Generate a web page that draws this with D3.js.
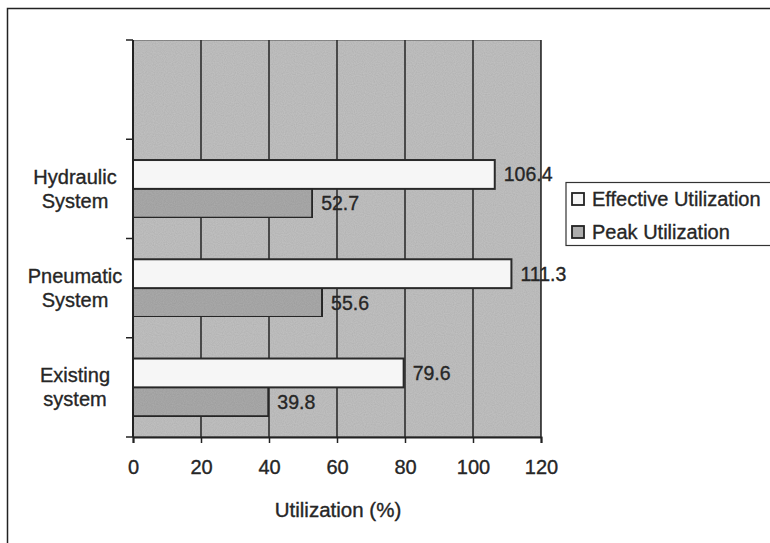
<!DOCTYPE html>
<html>
<head>
<meta charset="utf-8">
<script src="https://cdn.jsdelivr.net/npm/d3@7"></script>
<style>
  html, body { margin: 0; padding: 0; background: #fff; }
  svg { display: block; font-family: Arial, "Liberation Sans", sans-serif; }
  svg text { stroke: #262626; stroke-width: 0.35px; }
</style>
</head>
<body>
<svg id="chart" width="770" height="543"></svg>
<script>
// Categories, bottom to top as listed in the chart; a blank slot sits above them
const categories = ["Hydraulic System", "Pneumatic System", "Existing system"];
const seriesNames = ["Effective Utilization", "Peak Utilization"];
const effective = [106.4, 111.3, 79.6];
const peak = [52.7, 55.6, 39.8];
const xTicks = [0, 20, 40, 60, 80, 100, 120];

const svg = d3.select("#chart");
const plot = { left: 133, right: 541, top: 40, bottom: 437 };
const ink = "#262626";

// Outer frame (top and left edges visible)
svg.append("path")
  .attr("d", "M7.5,543 L7.5,8.5 L770,8.5")
  .attr("fill", "none").attr("stroke", "#222").attr("stroke-width", 1.5);

const x = d3.scaleLinear().domain([0, 120]).range([plot.left, plot.right]);
const y = d3.scaleBand().domain(["", ...categories]).range([plot.top, plot.bottom]);
const inner = d3.scaleBand().domain(seriesNames)
  .range([0, y.bandwidth()]).paddingOuter(0.72).paddingInner(0);

// Plot background with a fine grain
const defs = svg.append("defs");
const f = defs.append("filter").attr("id", "grain").attr("x", 0).attr("y", 0).attr("width", 1).attr("height", 1);
f.append("feTurbulence").attr("type", "fractalNoise").attr("baseFrequency", 0.9).attr("numOctaves", 1).attr("seed", 3).attr("result", "n");
f.append("feColorMatrix").attr("in", "n").attr("type", "matrix")
  .attr("values", "0 0 0 0 0  0 0 0 0 0  0 0 0 0 0  0 0 0 0.22 0").attr("result", "a");
f.append("feComposite").attr("in", "a").attr("in2", "SourceGraphic").attr("operator", "in").attr("result", "g");
f.append("feMerge").selectAll("feMergeNode").data(["SourceGraphic", "g"]).join("feMergeNode").attr("in", d => d);

svg.append("rect")
  .attr("x", plot.left).attr("y", plot.top)
  .attr("width", plot.right - plot.left).attr("height", plot.bottom - plot.top)
  .attr("fill", "#c4c4c4").attr("stroke", "#555").attr("stroke-width", 1)
  .attr("filter", "url(#grain)");

// Vertical gridlines
svg.append("g").selectAll("line").data(xTicks.slice(1)).join("line")
  .attr("x1", d => x(d)).attr("x2", d => x(d))
  .attr("y1", plot.top).attr("y2", plot.bottom)
  .attr("stroke", "#2e2e2e").attr("stroke-width", 1.6);

// Bars
const rows = categories.map((c, i) => ({ cat: c, vals: [effective[i], peak[i]] }));
const fills = ["#f6f6f6", "#adadad"];
const g = svg.append("g");
rows.forEach(r => {
  r.vals.forEach((v, j) => {
    const by = y(r.cat) + inner(seriesNames[j]);
    g.append("rect")
      .attr("x", x(0)).attr("y", by)
      .attr("width", x(v) - x(0)).attr("height", inner.bandwidth())
      .attr("fill", fills[j]).attr("stroke", "#2a2a2a").attr("stroke-width", 2)
      .attr("filter", j === 1 ? "url(#grain)" : null);
    g.append("text")
      .attr("x", x(v) + 9).attr("y", by + inner.bandwidth() / 2)
      .attr("dominant-baseline", "central")
      .attr("font-size", 19.5).attr("fill", ink)
      .text(v.toFixed(1));
  });
});

// X axis
const xAxis = d3.axisBottom(x).tickValues(xTicks).tickSize(6).tickPadding(17).tickFormat(d3.format("d"));
const xg = svg.append("g").attr("transform", `translate(0,${plot.bottom})`).call(xAxis);
xg.select(".domain").attr("stroke", "#222").attr("stroke-width", 2);
xg.selectAll(".tick line").attr("stroke", "#222").attr("stroke-width", 1.5);
xg.selectAll(".tick text").attr("font-size", 20).attr("fill", ink)
  .attr("font-family", "Arial, 'Liberation Sans', sans-serif");

// Y axis: ticks at band boundaries
const yEdges = y.domain().map(d => y(d)).concat([plot.bottom]);
svg.append("line").attr("x1", plot.left).attr("x2", plot.left)
  .attr("y1", plot.top).attr("y2", plot.bottom)
  .attr("stroke", "#222").attr("stroke-width", 2);
svg.append("g").selectAll("line").data(yEdges).join("line")
  .attr("x1", plot.left - 7).attr("x2", plot.left)
  .attr("y1", d => d).attr("y2", d => d)
  .attr("stroke", "#222").attr("stroke-width", 1.5);

// Category labels (two lines each)
categories.forEach(c => {
  const words = c.split(" ");
  const cy = y(c) + y.bandwidth() / 2;
  const t = svg.append("text").attr("text-anchor", "middle")
    .attr("font-size", 20).attr("fill", ink);
  words.forEach((w, i) => {
    t.append("tspan").attr("x", 75)
      .attr("y", cy + (i - (words.length - 1) / 2) * 24)
      .attr("dominant-baseline", "central").text(w);
  });
});

// Axis title
svg.append("text").attr("x", (plot.left + plot.right) / 2 + 1).attr("y", 517)
  .attr("text-anchor", "middle").attr("font-size", 20.5).attr("fill", ink)
  .text("Utilization (%)");

// Legend
const lg = svg.append("g");
lg.append("rect").attr("x", 566).attr("y", 182.5).attr("width", 215).attr("height", 63)
  .attr("fill", "#fff").attr("stroke", "#333").attr("stroke-width", 1.2);
seriesNames.forEach((s, i) => {
  const cy = 199 + i * 33;
  lg.append("rect").attr("x", 572).attr("y", cy - 6).attr("width", 12).attr("height", 12)
    .attr("fill", fills[i]).attr("stroke", "#222").attr("stroke-width", 1.8);
  lg.append("text").attr("x", 592).attr("y", cy).attr("dominant-baseline", "central")
    .attr("font-size", 20).attr("fill", ink).text(s);
});
</script>
</body>
</html>
